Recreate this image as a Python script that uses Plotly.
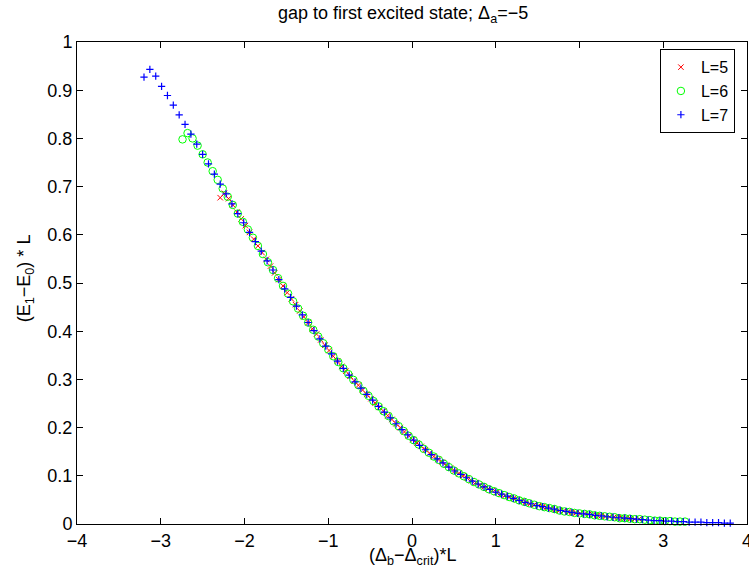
import plotly.graph_objects as go

# ---------------- data ----------------
x5 = [-2.29, -2.24, -2.19, -2.14, -2.09, -2.04, -1.99, -1.94, -1.89, -1.84,
      -1.79, -1.74, -1.69, -1.64, -1.59, -1.54, -1.49, -1.44, -1.39, -1.34,
      -1.29, -1.24, -1.19, -1.14, -1.09, -1.04, -0.99, -0.94, -0.89, -0.84,
      -0.79, -0.74, -0.69, -0.64, -0.59, -0.54, -0.49, -0.44, -0.39, -0.34,
      -0.29, -0.24, -0.19, -0.14, -0.09, -0.04, 0.01, 0.06, 0.11, 0.16,
      0.21, 0.26, 0.31, 0.36, 0.41, 0.46, 0.51, 0.56, 0.61, 0.66,
      0.71, 0.76, 0.81, 0.86, 0.91, 0.96, 1.01, 1.06, 1.11, 1.16,
      1.21, 1.26, 1.31, 1.36, 1.41, 1.46, 1.51, 1.56, 1.61, 1.66,
      1.71, 1.76, 1.81, 1.86, 1.91, 1.96, 2.01, 2.06, 2.11, 2.16,
      2.21, 2.26, 2.31, 2.36, 2.41, 2.46, 2.51, 2.56, 2.61, 2.66, 2.71]
y5 = [0.677, 0.686, 0.675, 0.662, 0.647, 0.633, 0.619, 0.605, 0.591, 0.577,
      0.563, 0.549, 0.535, 0.521, 0.507, 0.494, 0.480, 0.467, 0.455, 0.442,
      0.430, 0.418, 0.405, 0.394, 0.382, 0.371, 0.360, 0.348, 0.338, 0.327,
      0.317, 0.307, 0.297, 0.288, 0.278, 0.269, 0.260, 0.251, 0.242, 0.234,
      0.225, 0.217, 0.208, 0.200, 0.191, 0.183, 0.175, 0.168, 0.161, 0.154,
      0.147, 0.140, 0.134, 0.128, 0.122, 0.116, 0.110, 0.105, 0.100, 0.095,
      0.090, 0.086, 0.081, 0.077, 0.073, 0.069, 0.065, 0.062, 0.059, 0.056,
      0.053, 0.050, 0.047, 0.045, 0.042, 0.040, 0.038, 0.036, 0.034, 0.032,
      0.030, 0.028, 0.027, 0.025, 0.024, 0.023, 0.022, 0.021, 0.020, 0.019,
      0.018, 0.017, 0.016, 0.015, 0.014, 0.013, 0.012, 0.012, 0.011, 0.010, 0.010]

x6 = [-2.74, -2.68, -2.62, -2.56, -2.50, -2.44, -2.38, -2.32, -2.26, -2.20,
      -2.14, -2.08, -2.02, -1.96, -1.90, -1.84, -1.78, -1.72, -1.66, -1.60,
      -1.54, -1.48, -1.42, -1.36, -1.30, -1.24, -1.18, -1.12, -1.06, -1.00,
      -0.94, -0.88, -0.82, -0.76, -0.70, -0.64, -0.58, -0.52, -0.46, -0.40,
      -0.34, -0.28, -0.22, -0.16, -0.10, -0.04, 0.02, 0.08, 0.14, 0.20,
      0.26, 0.32, 0.38, 0.44, 0.50, 0.56, 0.62, 0.68, 0.74, 0.80,
      0.86, 0.92, 0.98, 1.04, 1.10, 1.16, 1.22, 1.28, 1.34, 1.40,
      1.46, 1.52, 1.58, 1.64, 1.70, 1.76, 1.82, 1.88, 1.94, 2.00,
      2.06, 2.12, 2.18, 2.24, 2.30, 2.36, 2.42, 2.48, 2.54, 2.60,
      2.66, 2.72, 2.78, 2.84, 2.90, 2.96, 3.02, 3.08, 3.14, 3.20, 3.26]
y6 = [0.798, 0.811, 0.800, 0.785, 0.767, 0.750, 0.732, 0.714, 0.696, 0.679,
      0.662, 0.644, 0.627, 0.611, 0.594, 0.577, 0.560, 0.543, 0.527, 0.510,
      0.494, 0.478, 0.462, 0.447, 0.432, 0.418, 0.403, 0.389, 0.375, 0.362,
      0.348, 0.336, 0.323, 0.311, 0.299, 0.288, 0.276, 0.266, 0.255, 0.244,
      0.234, 0.224, 0.213, 0.203, 0.193, 0.183, 0.174, 0.165, 0.156, 0.148,
      0.140, 0.133, 0.125, 0.118, 0.111, 0.105, 0.099, 0.093, 0.087, 0.082,
      0.077, 0.072, 0.068, 0.064, 0.060, 0.056, 0.053, 0.049, 0.046, 0.043,
      0.040, 0.037, 0.035, 0.033, 0.031, 0.028, 0.026, 0.025, 0.023, 0.022,
      0.021, 0.020, 0.018, 0.017, 0.016, 0.015, 0.014, 0.012, 0.012, 0.011,
      0.010, 0.010, 0.009, 0.008, 0.007, 0.007, 0.006, 0.006, 0.005, 0.005, 0.005]

x7 = [-3.20, -3.13, -3.06, -2.99, -2.92, -2.85, -2.78, -2.71, -2.64, -2.57,
      -2.50, -2.43, -2.36, -2.29, -2.22, -2.15, -2.08, -2.01, -1.94, -1.87,
      -1.80, -1.73, -1.66, -1.59, -1.52, -1.45, -1.38, -1.31, -1.24, -1.17,
      -1.10, -1.03, -0.96, -0.89, -0.82, -0.75, -0.68, -0.61, -0.54, -0.47,
      -0.40, -0.33, -0.26, -0.19, -0.12, -0.05, 0.02, 0.09, 0.16, 0.23,
      0.30, 0.37, 0.44, 0.51, 0.58, 0.65, 0.72, 0.79, 0.86, 0.93,
      1.00, 1.07, 1.14, 1.21, 1.28, 1.35, 1.42, 1.49, 1.56, 1.63,
      1.70, 1.77, 1.84, 1.91, 1.98, 2.05, 2.12, 2.19, 2.26, 2.33,
      2.40, 2.47, 2.54, 2.61, 2.68, 2.75, 2.82, 2.89, 2.96, 3.03,
      3.10, 3.17, 3.24, 3.31, 3.38, 3.45, 3.52, 3.59, 3.66, 3.73, 3.80]
y7 = [0.927, 0.943, 0.929, 0.908, 0.889, 0.869, 0.849, 0.829, 0.809, 0.788,
      0.767, 0.747, 0.726, 0.705, 0.685, 0.664, 0.644, 0.625, 0.605, 0.586,
      0.566, 0.546, 0.527, 0.507, 0.488, 0.470, 0.452, 0.434, 0.418, 0.401,
      0.384, 0.369, 0.353, 0.338, 0.323, 0.309, 0.295, 0.282, 0.269, 0.257,
      0.244, 0.232, 0.220, 0.208, 0.196, 0.185, 0.174, 0.163, 0.154, 0.144,
      0.135, 0.127, 0.118, 0.110, 0.103, 0.096, 0.089, 0.083, 0.077, 0.072,
      0.066, 0.062, 0.058, 0.053, 0.049, 0.045, 0.042, 0.038, 0.036, 0.033,
      0.031, 0.028, 0.026, 0.024, 0.022, 0.021, 0.020, 0.018, 0.017, 0.015,
      0.014, 0.013, 0.012, 0.011, 0.010, 0.009, 0.008, 0.007, 0.007, 0.006,
      0.006, 0.005, 0.005, 0.004, 0.004, 0.004, 0.003, 0.003, 0.003, 0.002, 0.002]

series_names = ["L=5", "L=6", "L=7"]
x_ticks = [-4, -3, -2, -1, 0, 1, 2, 3, 4]
y_ticks = [0, 0.1, 0.2, 0.3, 0.4, 0.5, 0.6, 0.7, 0.8, 0.9, 1]
y_ticktext = ["0", "0.1", "0.2", "0.3", "0.4", "0.5", "0.6", "0.7", "0.8", "0.9", "1"]

FONT = "Liberation Sans, Arial, Helvetica, sans-serif"
FS = 18

fig = go.Figure()
fig.add_trace(go.Scatter(x=x5, y=y5, mode="markers", name=series_names[0], cliponaxis=False,
                         marker=dict(symbol="x-thin", size=5.5, color="red",
                                     line=dict(color="red", width=1))))
fig.add_trace(go.Scatter(x=x6, y=y6, mode="markers", name=series_names[1], cliponaxis=False,
                         marker=dict(symbol="circle-open", size=7.5, color="#00ff00",
                                     line=dict(color="#00ff00", width=1))))
fig.add_trace(go.Scatter(x=x7, y=y7, mode="markers", name=series_names[2], cliponaxis=False,
                         marker=dict(symbol="cross-thin", size=5.2, color="blue",
                                     line=dict(color="blue", width=1.2))))

axis_common = dict(showline=True, linecolor="black", linewidth=1, mirror="ticks",
                   ticks="inside", ticklen=6, tickcolor="black", tickwidth=1,
                   showgrid=False, zeroline=False, automargin=False,
                   ticklabeloverflow="allow",
                   tickfont=dict(family=FONT, size=FS, color="black"))

fig.update_xaxes(range=[-4, 4], tickvals=x_ticks, **axis_common)
fig.update_yaxes(range=[0, 1], tickvals=y_ticks, ticktext=y_ticktext, **axis_common)

fig.update_layout(
    width=749, height=571,
    margin=dict(l=77, r=2, t=42, b=47),
    plot_bgcolor="white", paper_bgcolor="white",
    font=dict(family=FONT, size=FS, color="black"),
    showlegend=True,
    legend=dict(x=0.870, xanchor="left", y=0.985, yanchor="top",
                bgcolor="white", bordercolor="black", borderwidth=1,
                font=dict(family=FONT, size=16, color="black")),
    annotations=[
        dict(text="gap to first excited state; Δ<sub>a</sub>=−5", xref="paper", yref="paper",
             x=0.487, y=1.057, xanchor="center", yanchor="middle", showarrow=False,
             font=dict(family=FONT, size=FS, color="black")),
        dict(text="(Δ<sub>b</sub>−Δ<sub>crit</sub>)*L", xref="paper", yref="paper",
             x=0.5, y=-0.068, xanchor="center", yanchor="middle", showarrow=False,
             font=dict(family=FONT, size=FS, color="black")),
        dict(text="(E<sub>1</sub>−E<sub>0</sub>) * L", xref="paper", yref="paper",
             x=-0.0776, y=0.51, xanchor="center", yanchor="middle", showarrow=False,
             textangle=-90, font=dict(family=FONT, size=FS, color="black")),
    ],
)

fig.write_html("out.html", config={"displayModeBar": False},
               post_script="document.body.style.margin='0';document.body.style.overflow='hidden';")
